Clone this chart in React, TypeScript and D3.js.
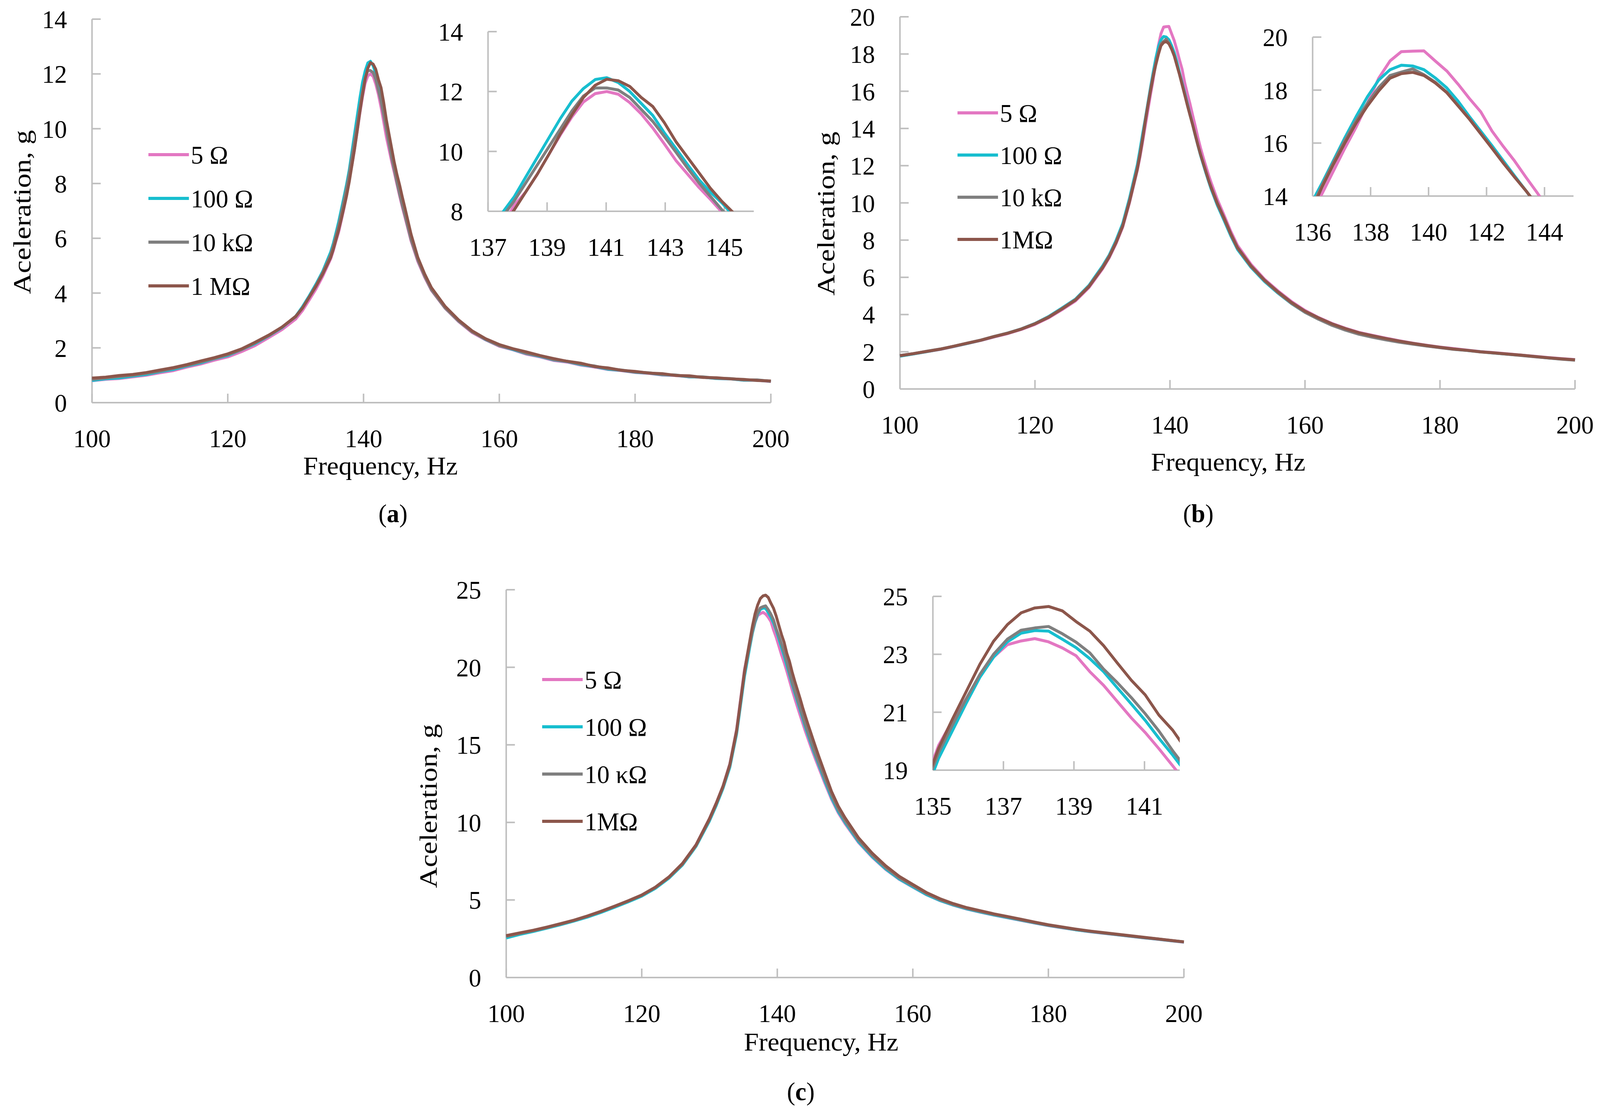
import React from 'react';
import * as d3 from 'd3';

// Frequency grid (Hz) shared by every series
const FREQ = [
  100, 102, 104, 106, 108, 110, 112, 114, 116, 118, 120, 122, 124, 126, 128, 130,
  131, 132, 133, 134,
  135.16, 135.55, 135.94, 136.33, 136.72, 137.11, 137.5, 137.89, 138.28, 138.67, 139.06, 139.45, 139.84, 140.23, 140.63,
  141.02, 141.41, 141.8, 142.19, 142.58, 142.97, 143.36, 143.75, 144.14, 144.53, 144.92, 145.31, 145.7, 146.09,
  147, 148, 149,
  150, 152, 154, 156, 158, 160, 162, 164, 166, 168, 170, 172, 174, 176, 178, 180, 182, 184, 186, 188, 190, 192, 194, 196, 198, 200,
];

// (a)
const A_5OHM = [
  0.8, 0.85, 0.88, 0.94, 1.0, 1.09, 1.17, 1.3, 1.41, 1.55, 1.67, 1.86, 2.08, 2.37, 2.67, 3.05,
  3.36, 3.75, 4.15, 4.62,
  5.25, 5.55, 5.9, 6.22, 6.65, 7.08, 7.55, 8.2, 8.65, 9.24, 9.9, 10.55, 11.15, 11.65, 11.93,
  12.0, 11.91, 11.63, 11.25, 10.78, 10.25, 9.7, 9.25, 8.8, 8.4, 7.97, 7.55, 7.15, 6.78,
  5.9, 5.15, 4.58,
  4.1, 3.45, 2.96, 2.56, 2.29, 2.06, 1.93, 1.77, 1.67, 1.54, 1.48, 1.37, 1.3, 1.21, 1.17, 1.1, 1.07, 1.01, 0.99, 0.94, 0.93, 0.88, 0.87, 0.82, 0.82, 0.77,
];
const A_100OHM = [
  0.81, 0.87, 0.9, 0.97, 1.03, 1.13, 1.21, 1.34, 1.45, 1.6, 1.72, 1.93, 2.15, 2.43, 2.74, 3.15,
  3.5, 3.9, 4.33, 4.8,
  5.5, 5.82, 6.2, 6.6, 7.05, 7.5, 7.97, 8.49, 9.15, 9.8, 10.45, 11.1, 11.68, 12.1, 12.4,
  12.46, 12.3, 12.0, 11.6, 11.2, 10.62, 10.1, 9.57, 9.06, 8.64, 8.28, 7.85, 7.42, 7.0,
  6.05, 5.25, 4.66,
  4.15, 3.48, 2.98, 2.6, 2.3, 2.08, 1.94, 1.79, 1.69, 1.56, 1.5, 1.39, 1.32, 1.22, 1.18, 1.11, 1.08, 1.02, 1.0, 0.94, 0.93, 0.88, 0.87, 0.82, 0.82, 0.78,
];
const A_10K = [
  0.85, 0.9, 0.95, 1.0, 1.07, 1.15, 1.25, 1.36, 1.48, 1.61, 1.75, 1.93, 2.18, 2.44, 2.76, 3.13,
  3.46, 3.86, 4.28, 4.75,
  5.4, 5.72, 6.08, 6.45, 6.9, 7.35, 7.83, 8.35, 8.95, 9.55, 10.15, 10.75, 11.35, 11.85, 12.12,
  12.12, 12.05, 11.8, 11.4, 11.0, 10.5, 9.98, 9.45, 8.95, 8.5, 8.05, 7.62, 7.22, 6.85,
  5.95, 5.2, 4.62,
  4.12, 3.46, 2.98, 2.58, 2.31, 2.08, 1.96, 1.8, 1.71, 1.57, 1.51, 1.41, 1.34, 1.24, 1.19, 1.12, 1.09, 1.03, 1.01, 0.95, 0.94, 0.89, 0.88, 0.83, 0.83, 0.78,
];
const A_1M = [
  0.9, 0.93, 0.99, 1.03, 1.1, 1.19, 1.28, 1.39, 1.52, 1.64, 1.78, 1.96, 2.2, 2.46, 2.76, 3.15,
  3.45, 3.85, 4.25, 4.7,
  5.3, 5.6, 5.95, 6.3, 6.7, 7.12, 7.55, 8.05, 8.65, 9.24, 9.9, 10.59, 11.22, 11.8, 12.21,
  12.41, 12.36, 12.17, 11.8, 11.5, 10.96, 10.33, 9.81, 9.29, 8.77, 8.33, 7.95, 7.52, 7.12,
  6.15, 5.3, 4.7,
  4.2, 3.52, 3.02, 2.62, 2.33, 2.12, 1.97, 1.85, 1.72, 1.61, 1.51, 1.44, 1.32, 1.27, 1.18, 1.14, 1.08, 1.06, 0.99, 0.98, 0.92, 0.91, 0.87, 0.85, 0.81, 0.79,
];

// (b)
const B_5OHM = [
  1.78, 1.89, 2.01, 2.13, 2.28, 2.45, 2.61, 2.8, 2.98, 3.2, 3.47, 3.82, 4.26, 4.73, 5.45, 6.45,
  7.05, 7.8, 8.7, 10.0,
  11.75, 12.45, 13.25, 14.1, 14.95, 15.8, 16.6, 17.5, 18.45, 19.1, 19.45, 19.47, 19.48, 19.1, 18.72,
  18.22, 17.68, 17.18, 16.45, 15.87, 15.32, 14.71, 14.12, 13.5, 12.95, 12.45, 11.98, 11.52, 11.1,
  10.2, 9.35, 8.48,
  7.72, 6.7, 5.9, 5.27, 4.7, 4.22, 3.84, 3.52, 3.26, 3.04, 2.88, 2.73, 2.59, 2.46, 2.35, 2.25, 2.17, 2.09, 2.01, 1.95, 1.89, 1.82, 1.76, 1.69, 1.63, 1.58,
];
const B_100OHM = [
  1.76, 1.88, 2.01, 2.14, 2.29, 2.45, 2.62, 2.82, 3.01, 3.23, 3.52, 3.89, 4.35, 4.83, 5.57, 6.6,
  7.2, 7.98, 8.9, 10.25,
  12.05, 12.85, 13.7, 14.5, 15.35, 16.2, 17.0, 17.75, 18.38, 18.77, 18.94, 18.91, 18.77, 18.46, 18.08,
  17.58, 17.0, 16.45, 15.9, 15.33, 14.76, 14.2, 13.62, 13.08, 12.55, 12.08, 11.62, 11.18, 10.75,
  9.88, 9.07, 8.23,
  7.5, 6.54, 5.78, 5.15, 4.59, 4.12, 3.76, 3.45, 3.2, 2.98, 2.82, 2.68, 2.54, 2.43, 2.32, 2.23, 2.14, 2.07, 2.0, 1.93, 1.87, 1.81, 1.74, 1.67, 1.61, 1.56,
];
const B_10K = [
  1.8, 1.9, 2.03, 2.15, 2.3, 2.47, 2.63, 2.83, 3.01, 3.23, 3.51, 3.87, 4.32, 4.8, 5.53, 6.54,
  7.15, 7.9, 8.8, 10.13,
  11.9, 12.65, 13.5, 14.42, 15.28, 16.1, 16.85, 17.5, 18.1, 18.55, 18.68, 18.8, 18.58, 18.3, 17.92,
  17.42, 16.92, 16.37, 15.82, 15.26, 14.72, 14.2, 13.64, 13.1, 12.6, 12.14, 11.68, 11.23, 10.82,
  9.95, 9.15, 8.3,
  7.56, 6.58, 5.82, 5.18, 4.6, 4.12, 3.75, 3.42, 3.16, 2.94, 2.78, 2.64, 2.51, 2.41, 2.31, 2.22, 2.13, 2.07, 1.99, 1.93, 1.87, 1.8, 1.73, 1.67, 1.6, 1.55,
];
const B_1M = [
  1.79, 1.9, 2.02, 2.14, 2.3, 2.46, 2.62, 2.82, 3.0, 3.22, 3.5, 3.85, 4.3, 4.78, 5.5, 6.5,
  7.1, 7.85, 8.75, 10.05,
  11.8, 12.55, 13.4, 14.35, 15.2, 16.0, 16.75, 17.4, 17.97, 18.45, 18.62, 18.67, 18.55, 18.27, 17.9,
  17.4, 16.9, 16.35, 15.8, 15.24, 14.71, 14.2, 13.65, 13.1, 12.6, 12.15, 11.7, 11.25, 10.85,
  10.0, 9.2, 8.35,
  7.6, 6.62, 5.85, 5.22, 4.65, 4.18, 3.82, 3.5, 3.24, 3.02, 2.86, 2.71, 2.57, 2.45, 2.34, 2.24, 2.15, 2.08, 2.0, 1.94, 1.88, 1.82, 1.75, 1.68, 1.62, 1.57,
];

// (c)
const C_5OHM = [
  2.62, 2.82, 3.0, 3.2, 3.42, 3.66, 3.93, 4.23, 4.56, 4.92, 5.3, 5.8, 6.46, 7.33, 8.55, 10.25,
  11.25, 12.35, 13.78, 16.0,
  19.85, 20.7, 21.45, 22.25, 22.9, 23.33, 23.46, 23.54, 23.43, 23.22, 22.95, 22.4, 21.93, 21.37, 20.8,
  20.3, 19.74, 19.15, 18.55, 18.0, 17.45, 16.92, 16.4, 15.88, 15.4, 14.92, 14.45, 14.0, 13.57,
  12.55, 11.5, 10.62,
  9.92, 8.7, 7.76, 6.97, 6.33, 5.83, 5.34, 4.96, 4.66, 4.41, 4.21, 4.02, 3.85, 3.68, 3.51, 3.35, 3.21, 3.08, 2.96, 2.86, 2.76, 2.66, 2.56, 2.47, 2.37, 2.28,
];
const C_100OHM = [
  2.55, 2.78, 2.97, 3.18, 3.4, 3.64, 3.9, 4.2, 4.53, 4.88, 5.25, 5.75, 6.4, 7.25, 8.45, 10.1,
  11.1, 12.2, 13.55, 15.7,
  19.4, 20.35, 21.3, 22.2, 22.9, 23.43, 23.73, 23.82, 23.8, 23.52, 23.23, 22.85, 22.4, 21.84, 21.28,
  20.72, 20.1, 19.52, 18.9, 18.35, 17.8, 17.25, 16.7, 16.15, 15.65, 15.15, 14.65, 14.2, 13.75,
  12.7, 11.6, 10.7,
  10.0, 8.75, 7.8, 7.0, 6.35, 5.85, 5.35, 4.97, 4.67, 4.42, 4.22, 4.03, 3.86, 3.69, 3.52, 3.36, 3.22, 3.08, 2.97, 2.87, 2.77, 2.67, 2.57, 2.48, 2.38, 2.29,
];
const C_10K = [
  2.65, 2.84, 3.02, 3.22, 3.44, 3.68, 3.95, 4.25, 4.58, 4.93, 5.3, 5.8, 6.45, 7.3, 8.5, 10.18,
  11.18, 12.28, 13.65, 15.82,
  19.6, 20.55, 21.45, 22.3, 23.0, 23.52, 23.83, 23.91, 23.96, 23.71, 23.42, 23.05, 22.49, 22.02, 21.5,
  20.95, 20.35, 19.67, 19.05, 18.5, 17.95, 17.4, 16.85, 16.3, 15.8, 15.3, 14.8, 14.33, 13.88,
  12.85, 11.75, 10.82,
  10.1, 8.85, 7.88, 7.08, 6.42, 5.92, 5.42, 5.02, 4.71, 4.46, 4.26, 4.07, 3.9, 3.72, 3.55, 3.38, 3.24, 3.1, 2.99, 2.88, 2.78, 2.68, 2.58, 2.49, 2.39, 2.3,
];
const C_1M = [
  2.7, 2.88, 3.05, 3.25, 3.47, 3.7, 3.97, 4.27, 4.6, 4.95, 5.32, 5.82, 6.48, 7.35, 8.55, 10.25,
  11.25, 12.35, 13.75, 15.95,
  19.75, 20.75, 21.7, 22.65, 23.45, 24.02, 24.43, 24.6, 24.65, 24.5, 24.13, 23.8, 23.3, 22.7, 22.1,
  21.6, 20.9, 20.38, 19.7, 19.1, 18.55, 18.0, 17.4, 16.85, 16.32, 15.82, 15.3, 14.8, 14.3,
  13.2, 12.0, 11.05,
  10.3, 9.0, 8.02, 7.2, 6.52, 6.0, 5.48, 5.08, 4.76, 4.5, 4.3, 4.1, 3.93, 3.75, 3.57, 3.4, 3.26, 3.12, 3.0, 2.9, 2.8, 2.7, 2.6, 2.5, 2.4, 2.3,
];

const NAMES_A = ['5 Ω', '100 Ω', '10 kΩ', '1 MΩ'];
const NAMES_B = ['5 Ω', '100 Ω', '10 kΩ', '1MΩ'];
const NAMES_C = ['5 Ω', '100 Ω', '10 κΩ', '1MΩ'];

const MAIN_X_TICKS = [100, 120, 140, 160, 180, 200];
const A_Y_TICKS = [0, 2, 4, 6, 8, 10, 12, 14];
const B_Y_TICKS = [0, 2, 4, 6, 8, 10, 12, 14, 16, 18, 20];
const C_Y_TICKS = [0, 5, 10, 15, 20, 25];
const A_INSET_X_TICKS = [137, 139, 141, 143, 145];
const A_INSET_Y_TICKS = [8, 10, 12, 14];
const B_INSET_X_TICKS = [136, 138, 140, 142, 144];
const B_INSET_Y_TICKS = [14, 16, 18, 20];
const C_INSET_X_TICKS = [135, 137, 139, 141];
const C_INSET_Y_TICKS = [19, 21, 23, 25];

const COLORS = ['#e377c2', '#17becf', '#7f7f7f', '#8c564b'];
const AXIS = '#bfbfbf';
const FONT = "'Liberation Serif', 'Times New Roman', serif";
const FS = 66;
const W = 4226;
const H = 2855;

interface Box { x0: number; x1: number; y0: number; y1: number }

interface AxesProps {
  box: Box;
  x: d3.ScaleLinear<number, number>;
  y: d3.ScaleLinear<number, number>;
  xTicks: number[];
  yTicks: number[];
}

// Excel style axes: light grey lines, short inside ticks, labels outside
const Axes: React.FC<AxesProps> = ({ box, x, y, xTicks, yTicks }) => (
  <g>
    <line x1={box.x0} x2={box.x0} y1={box.y0} y2={box.y1} stroke={AXIS} strokeWidth={4} />
    <line x1={box.x0} x2={box.x1} y1={box.y0} y2={box.y0} stroke={AXIS} strokeWidth={4} />
    {yTicks.map((t) => (
      <g key={'y' + t}>
        <line x1={box.x0} x2={box.x0 + 23} y1={y(t)} y2={y(t)} stroke={AXIS} strokeWidth={4} />
        <text x={box.x0 - 66} y={y(t)} dy="0.35em" textAnchor="end" fontSize={FS}>{t}</text>
      </g>
    ))}
    {xTicks.map((t) => (
      <g key={'x' + t}>
        <line x1={x(t)} x2={x(t)} y1={box.y0} y2={box.y0 - 23} stroke={AXIS} strokeWidth={4} />
        <text x={x(t)} y={box.y0 + 114} textAnchor="middle" fontSize={FS}>{t}</text>
      </g>
    ))}
  </g>
);

interface PanelProps {
  id: string;
  tag: string;
  series: number[][];
  names: string[];
  main: Box;
  yMax: number;
  yTicks: number[];
  inset: Box;
  insetX: [number, number];
  insetY: [number, number];
  insetXTicks: number[];
  insetYTicks: number[];
  xTitle: { cx: number; y: number };
  yTitle: { x: number; cy: number };
  tagPos: { cx: number; y: number };
  legend: { x: number; y: number; step: number };
}

const Panel: React.FC<PanelProps> = (p) => {
  const x = d3.scaleLinear().domain([100, 200]).range([p.main.x0, p.main.x1]);
  const y = d3.scaleLinear().domain([0, p.yMax]).range([p.main.y0, p.main.y1]);
  const ix = d3.scaleLinear().domain(p.insetX).range([p.inset.x0, p.inset.x1]);
  const iy = d3.scaleLinear().domain(p.insetY).range([p.inset.y0, p.inset.y1]);

  const mainLine = d3.line<number>().x((_, i) => x(FREQ[i])).y((d) => y(d));
  const insetLine = d3.line<number>().x((_, i) => ix(FREQ[i])).y((d) => iy(d));
  const clipId = 'clip-' + p.id;

  return (
    <g>
      <defs>
        <clipPath id={clipId}>
          <rect x={p.inset.x0} y={p.inset.y1} width={p.inset.x1 - p.inset.x0} height={p.inset.y0 - p.inset.y1} />
        </clipPath>
      </defs>

      <Axes box={p.main} x={x} y={y} xTicks={MAIN_X_TICKS} yTicks={p.yTicks} />
      <Axes box={p.inset} x={ix} y={iy} xTicks={p.insetXTicks} yTicks={p.insetYTicks} />

      {p.series.map((s, i) => (
        <path key={'m' + i} d={mainLine(s) ?? ''} fill="none" stroke={COLORS[i]} strokeWidth={7.5} strokeLinejoin="round" />
      ))}
      <g clipPath={`url(#${clipId})`}>
        {p.series.map((s, i) => (
          <path key={'i' + i} d={insetLine(s) ?? ''} fill="none" stroke={COLORS[i]} strokeWidth={7.5} strokeLinejoin="round" />
        ))}
      </g>

      {/* legend */}
      {p.names.map((n, i) => {
        const ly = p.legend.y + i * p.legend.step;
        return (
          <g key={'l' + i}>
            <line x1={p.legend.x} x2={p.legend.x + 107} y1={ly} y2={ly} stroke={COLORS[i]} strokeWidth={8} />
            <text x={p.legend.x + 112} y={ly} dy="0.35em" fontSize={FS}>{n}</text>
          </g>
        );
      })}

      {/* axis titles */}
      <text x={p.xTitle.cx} y={p.xTitle.y} textAnchor="middle" fontSize={FS} textLength={408} lengthAdjust="spacingAndGlyphs">
        Frequency, Hz
      </text>
      <text
        transform={`translate(${p.yTitle.x},${p.yTitle.cy}) rotate(-90)`}
        textAnchor="middle"
        fontSize={FS}
        textLength={420}
        lengthAdjust="spacingAndGlyphs"
      >
        Aceleration, g
      </text>
      <text x={p.tagPos.cx} y={p.tagPos.y} textAnchor="middle" fontSize={FS}>
        (<tspan fontWeight="bold">{p.tag}</tspan>)
      </text>
    </g>
  );
};

const App: React.FC = () => (
  <svg
    viewBox={`0 0 ${W} ${H}`}
    preserveAspectRatio="none"
    style={{ position: 'fixed', left: 0, top: 0, width: '100vw', height: '100vh', background: '#fff' }}
    fontFamily={FONT}
    fill="#000"
  >
    <rect width={W} height={H} fill="#fff" />
    <Panel
      id="a"
      tag="a"
      series={[A_5OHM, A_100OHM, A_10K, A_1M]}
      names={NAMES_A}
      main={{ x0: 243, x1: 2036, y0: 1031, y1: 49 }}
      yMax={14}
      yTicks={A_Y_TICKS}
      inset={{ x0: 1289, x1: 1991, y0: 541, y1: 81 }}
      insetX={[137, 146]}
      insetY={[8, 14]}
      insetXTicks={A_INSET_X_TICKS}
      insetYTicks={A_INSET_Y_TICKS}
      xTitle={{ cx: 1005, y: 1215 }}
      yTitle={{ x: 80, cy: 543 }}
      tagPos={{ cx: 1038, y: 1337 }}
      legend={{ x: 392, y: 396, step: 112 }}
    />
    <Panel
      id="b"
      tag="b"
      series={[B_5OHM, B_100OHM, B_10K, B_1M]}
      names={NAMES_B}
      main={{ x0: 2377, x1: 4160, y0: 996, y1: 43 }}
      yMax={20}
      yTicks={B_Y_TICKS}
      inset={{ x0: 3467, x1: 4156, y0: 502, y1: 95 }}
      insetX={[136, 145]}
      insetY={[14, 20]}
      insetXTicks={B_INSET_X_TICKS}
      insetYTicks={B_INSET_Y_TICKS}
      xTitle={{ cx: 3244, y: 1205 }}
      yTitle={{ x: 2204, cy: 547 }}
      tagPos={{ cx: 3165, y: 1337 }}
      legend={{ x: 2529, y: 289, step: 108 }}
    />
    <Panel
      id="c"
      tag="c"
      series={[C_5OHM, C_100OHM, C_10K, C_1M]}
      names={NAMES_C}
      main={{ x0: 1337, x1: 3127, y0: 2503, y1: 1510 }}
      yMax={25}
      yTicks={C_Y_TICKS}
      inset={{ x0: 2464, x1: 3116, y0: 1972, y1: 1527 }}
      insetX={[135, 142]}
      insetY={[19, 25]}
      insetXTicks={C_INSET_X_TICKS}
      insetYTicks={C_INSET_Y_TICKS}
      xTitle={{ cx: 2169, y: 2690 }}
      yTitle={{ x: 1153, cy: 2064 }}
      tagPos={{ cx: 2115, y: 2817 }}
      legend={{ x: 1432, y: 1740, step: 121 }}
    />
  </svg>
);

export default App;
